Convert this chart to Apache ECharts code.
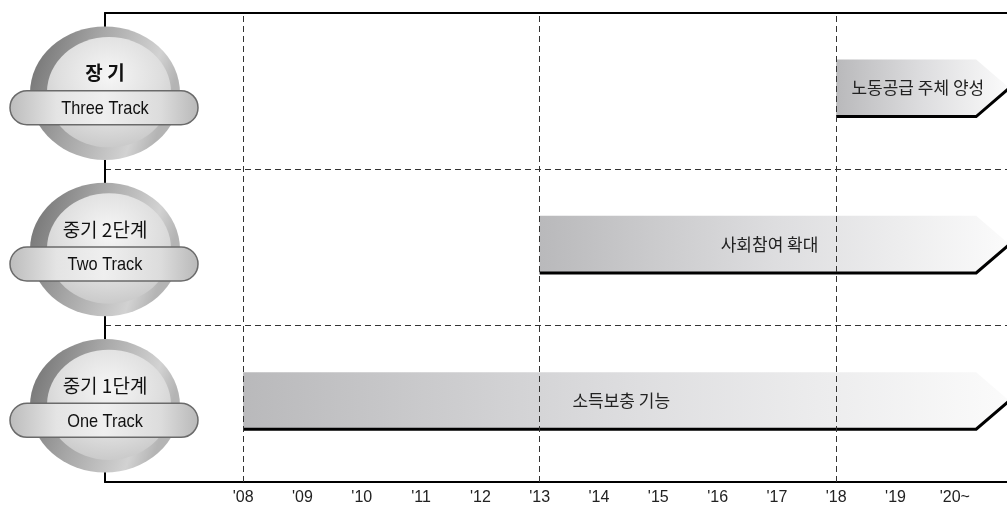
<!DOCTYPE html>
<html>
<head>
<meta charset="utf-8">
<script src="https://cdn.jsdelivr.net/npm/echarts@6/dist/echarts.min.js"></script>
<style>html,body{margin:0;padding:0;background:#fff}#c{width:1007px;height:507px}</style>
</head>
<body>
<div id="c"></div>
<script>
// ---- data ----
const years = [2008, 2009, 2010, 2011, 2012, 2013, 2014, 2015, 2016, 2017, 2018, 2019, 2020];
const tickLabels = ["'08", "'09", "'10", "'11", "'12", "'13", "'14", "'15", "'16", "'17", "'18", "'19", "'20~"];
const tracks = ['One Track', 'Two Track', 'Three Track'];
const phases = ['중기 1단계', '중기 2단계', '장 기'];
const startYear = [2008, 2013, 2018];
const endYear = [2020.36, 2020.36, 2020.36];
const tipYear = [2020.92, 2020.92, 2020.92];
const barLabels = ['소득보충 기능', '사회참여 확대', '노동공급 주체 양성'];
const dividers = [2008, 2013, 2018];

const KR = '"Noto Sans CJK KR", "Noto Sans", sans-serif';
const LATIN = '"Liberation Sans", Arial, sans-serif';

const chart = echarts.init(document.getElementById('c'), null, {renderer: 'canvas'});

const barData = tracks.map((t, i) => [startYear[i], endYear[i], tipYear[i], i]);

chart.setOption({
  animation: false,
  grid: {left: 105, right: 0, top: 13, bottom: 25},
  xAxis: [{
    type: 'value', min: 2005.67, max: 2020.88,
    axisLine: {show: true, lineStyle: {color: '#000', width: 2}},
    axisTick: {show: false},
    splitLine: {show: false},
    axisLabel: {
      customValues: years,
      margin: 8,
      color: '#222',
      fontSize: 16,
      fontFamily: LATIN,
      formatter: v => tickLabels[years.indexOf(Math.round(v))]
    }
  }, {
    type: 'value', position: 'top', min: 2005.67, max: 2020.88,
    axisLine: {show: true, onZero: false, lineStyle: {color: '#000', width: 2}},
    axisTick: {show: false}, axisLabel: {show: false}, splitLine: {show: false}
  }],
  yAxis: {
    type: 'category', data: tracks,
    axisLine: {show: true, lineStyle: {color: '#000', width: 2}},
    axisTick: {show: false}, axisLabel: {show: false},
    splitLine: {show: true, lineStyle: {color: '#333', width: 1, type: [6, 4]}}
  },
  series: [{
    type: 'line', data: [], z: 1, silent: true,
    markLine: {
      silent: true, symbol: ['none', 'none'], label: {show: false},
      lineStyle: {color: '#333', width: 1, type: [6, 4]},
      data: dividers.map(v => ({xAxis: v}))
    }
  }, {
    type: 'custom', z: 3, data: barData,
    encode: {x: [0, 1, 2], y: 3},
    renderItem: function (params, api) {
      const i = params.dataIndex;
      const p0 = api.coord([api.value(0), api.value(3)]);
      const p1 = api.coord([api.value(1), api.value(3)]);
      const pt = api.coord([api.value(2), api.value(3)]);
      const rowH = api.size([0, 1])[1];
      const h = rowH * 0.365;
      const yc = p0[1] - rowH * 0.02;
      const top = yc - h / 2, bot = yc + h / 2;
      return {
        type: 'group',
        children: [{
          type: 'polygon',
          shape: {points: [[p0[0], top], [p1[0], top], [pt[0], yc], [p1[0], bot], [p0[0], bot]]},
          style: {
            fill: new echarts.graphic.LinearGradient(0, 0, 1, 0, [
              {offset: 0, color: '#b9b9bb'},
              {offset: 0.5, color: '#dddddf'},
              {offset: 1, color: '#fbfbfb'}
            ]),
            stroke: null
          }
        }, {
          type: 'polyline',
          shape: {points: [[p0[0], bot], [p1[0], bot], [pt[0], yc]]},
          style: {stroke: '#000', lineWidth: 3, fill: null}
        }, {
          type: 'text',
          style: {
            text: barLabels[i],
            x: (p0[0] + pt[0]) / 2 - 5, y: yc,
            align: 'center', verticalAlign: 'middle',
            font: '17px ' + KR, fill: '#222'
          }
        }]
      };
    }
  }]
});

// ---- row badges on the left, positioned from the category axis ----
const axisX = chart.convertToPixel({xAxisIndex: 0}, 2005.67);
const elements = [];
tracks.forEach((t, i) => {
  const rc = chart.convertToPixel({yAxisIndex: 0}, i);
  const cy = rc + 2;
  const pillY = rc + 16.5;
  elements.push({
    type: 'circle', x: axisX, y: cy, scaleY: 0.89, z: 100,
    shape: {cx: 0, cy: 0, r: 75},
    style: {
      fill: new echarts.graphic.LinearGradient(0, 0, 1, 0.3, [
        {offset: 0, color: '#6c6c6c'},
        {offset: 0.45, color: '#a6a6a6'},
        {offset: 0.85, color: '#d2d2d2'},
        {offset: 1, color: '#b4b4b4'}
      ])
    }
  }, {
    type: 'circle', x: axisX + 4, y: cy - 1, scaleY: 0.89, z: 101,
    shape: {cx: 0, cy: 0, r: 62},
    style: {
      fill: new echarts.graphic.RadialGradient(0.5, 0.35, 0.7, [
        {offset: 0, color: '#f6f6f6'},
        {offset: 0.6, color: '#dedede'},
        {offset: 1, color: '#c6c6c6'}
      ])
    }
  }, {
    type: 'text', z: 102,
    x: axisX, y: rc - 18,
    style: {
      text: phases[i], x: 0, y: 0,
      align: 'center', verticalAlign: 'middle',
      font: (i === 2 ? 'bold 19px ' : '19px ') + KR, fill: '#111'
    }
  }, {
    type: 'rect', z: 103,
    shape: {x: axisX - 95, y: pillY - 17, width: 188, height: 34, r: 17},
    style: {
      fill: new echarts.graphic.LinearGradient(0, 0, 1, 0, [
        {offset: 0, color: '#bcbcbc'},
        {offset: 0.25, color: '#e4e4e4'},
        {offset: 0.5, color: '#efefef'},
        {offset: 0.8, color: '#dcdcdc'},
        {offset: 1, color: '#b8b8b8'}
      ]),
      stroke: '#6a6a6a', lineWidth: 1.5
    }
  }, {
    type: 'text', z: 104,
    x: axisX, y: pillY + 1, scaleX: 0.86,
    style: {
      text: t, x: 0, y: 0,
      align: 'center', verticalAlign: 'middle',
      font: '19px ' + LATIN, fill: '#111'
    }
  });
});
chart.setOption({graphic: {elements: elements}});
</script>
</body>
</html>
